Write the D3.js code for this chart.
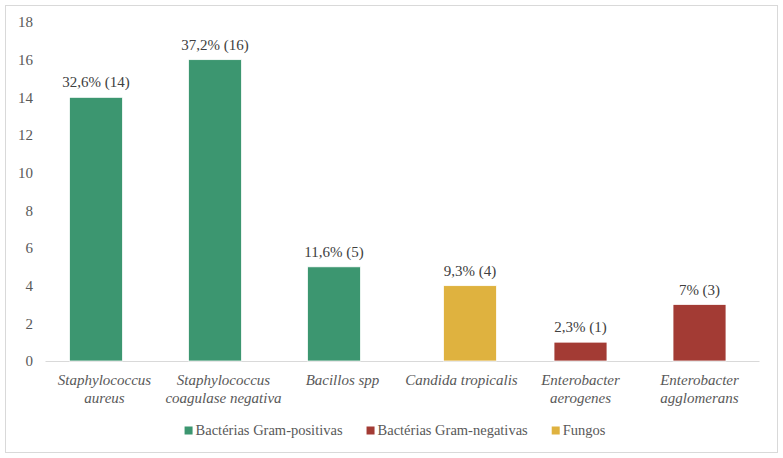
<!DOCTYPE html>
<html>
<head>
<meta charset="utf-8">
<script src="https://cdn.jsdelivr.net/npm/d3@7"></script>
<style>
  body { margin: 0; background: #fff; }
  text { font-family: "Liberation Serif", Tinos, "Times New Roman", Times, "DejaVu Serif", "Noto Serif", serif !important; }
</style>
</head>
<body>
<div id="chart"></div>
<script>
// ============= Data =============
const categories = [
    "Staphylococcus aureus",
    "Staphylococcus coagulase negativa",
    "Bacillos spp",
    "Candida tropicalis",
    "Enterobacter aerogenes",
    "Enterobacter agglomerans"
];
const categoryLines = [
    ["Staphylococcus", "aureus"],
    ["Staphylococcus", "coagulase negativa"],
    ["Bacillos spp"],
    ["Candida tropicalis"],
    ["Enterobacter", "aerogenes"],
    ["Enterobacter", "agglomerans"]
];
const counts = [14, 16, 5, 4, 1, 3];
const percents = ["32,6%", "37,2%", "11,6%", "9,3%", "2,3%", "7%"];
const groups = [
    "Bactérias Gram-positivas",
    "Bactérias Gram-positivas",
    "Bactérias Gram-positivas",
    "Fungos",
    "Bactérias Gram-negativas",
    "Bactérias Gram-negativas"
];
const seriesNames = ["Bactérias Gram-positivas", "Bactérias Gram-negativas", "Fungos"];
const seriesColors = ["#3C9670", "#A33B34", "#DFB23F"];
const yTicks = [0, 2, 4, 6, 8, 10, 12, 14, 16, 18];

const rows = categories.map((c, i) => ({
    category: c,
    lines: categoryLines[i],
    count: counts[i],
    pct: percents[i],
    group: groups[i]
}));

const width = 783;
const height = 458;
const margin = { top: 22, right: 24, bottom: 97, left: 45 };

// ============= Scales =============
const x = d3.scaleBand()
    .domain(categories)
    .range([margin.left, width - margin.right])
    .padding(0);

// excel-style overlapping series slots inside each category
const slot = d3.scalePoint()
    .domain(seriesNames)
    .range([-8.5, 8.5]);

const y = d3.scaleLinear()
    .domain([0, 18])
    .range([height - margin.bottom, margin.top]);

const color = d3.scaleOrdinal()
    .domain(seriesNames)
    .range(seriesColors);

const barWidth = x.bandwidth() * 0.445;

const svg = d3.select("#chart")
    .append("svg")
    .attr("width", width)
    .attr("height", height);

// chart frame
svg.append("rect")
    .attr("x", 5.5)
    .attr("y", 5.5)
    .attr("width", 772)
    .attr("height", 447)
    .attr("fill", "#fff")
    .attr("stroke", "#d9d9d9");

// ============= Axes =============
const yAxis = svg.append("g")
    .attr("transform", `translate(${margin.left},0)`)
    .call(d3.axisLeft(y).tickValues(yTicks).tickSize(0).tickPadding(12))
    .attr("font-size", 15);
yAxis.select(".domain").remove();
yAxis.selectAll("text").attr("fill", "#595959");

const xAxis = svg.append("g")
    .attr("transform", `translate(0,${y(0)})`)
    .call(d3.axisBottom(x).tickSize(0).tickFormat(""));
xAxis.select(".domain").attr("stroke", "#d9d9d9");

// ============= Bars =============
svg.selectAll("rect.bar")
    .data(rows)
    .join("rect")
    .attr("class", "bar")
    .attr("x", d => x(d.category) + x.bandwidth() / 2 + slot(d.group) - barWidth / 2)
    .attr("y", d => y(d.count))
    .attr("width", barWidth)
    .attr("height", d => y(0) - y(d.count))
    .attr("fill", d => color(d.group))
    .attr("stroke", "#fff")
    .attr("stroke-width", 0.75);

// data labels
svg.selectAll("text.value")
    .data(rows)
    .join("text")
    .attr("class", "value")
    .attr("x", d => x(d.category) + x.bandwidth() / 2 + slot(d.group))
    .attr("y", d => y(d.count) - 10)
    .attr("text-anchor", "middle")
    .attr("fill", "#404040")
    .attr("font-size", 15)
    .text(d => `${d.pct} (${d.count})`);

// category labels (italic, wrapped)
const catLabels = svg.selectAll("text.cat")
    .data(rows)
    .join("text")
    .attr("class", "cat")
    .attr("text-anchor", "middle")
    .attr("fill", "#595959")
    .attr("font-size", 15)
    .attr("font-style", "italic");

catLabels.selectAll("tspan")
    .data(d => d.lines.map(l => ({ line: l, cat: d.category })))
    .join("tspan")
    .attr("x", d => x(d.cat) + x.bandwidth() / 2)
    .attr("y", (d, i) => y(0) + 24 + i * 18)
    .text(d => d.line);

// ============= Legend =============
const legend = svg.append("g");
let offset = 0;
seriesNames.forEach((name, i) => {
    const item = legend.append("g").attr("transform", `translate(${offset},0)`);
    item.append("rect")
        .attr("x", 0)
        .attr("y", -8.5)
        .attr("width", 8)
        .attr("height", 8)
        .attr("fill", color(name));
    const t = item.append("text")
        .attr("x", 11)
        .attr("y", 0)
        .attr("fill", "#595959")
        .attr("font-size", 14.5)
        .text(name);
    offset += 11 + t.node().getComputedTextLength() + 24;
});
const legendWidth = offset - 24;
legend.attr("transform", `translate(${395 - legendWidth / 2},435)`);
</script>
</body>
</html>
